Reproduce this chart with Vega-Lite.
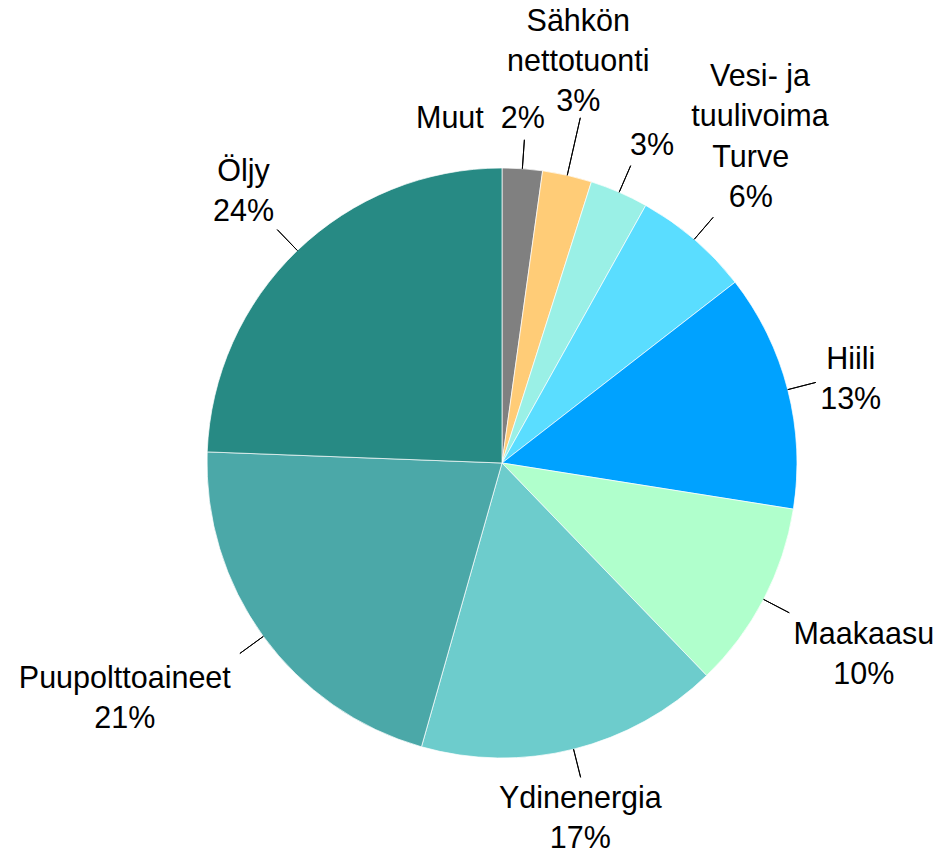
{
  "$schema": "https://vega.github.io/schema/vega-lite/v6.json",
  "width": 880,
  "height": 780,
  "autosize": {"type": "none"},
  "padding": {"left": 62, "top": 73, "right": 0, "bottom": 0},
  "background": "white",
  "config": {"view": {"stroke": null}},
  "data": {
    "values": [
      {"jarjestys": 1, "lahde": "Muut", "osuus": 2.2, "teksti": "Muut\u00a0\u00a02%", "lisateksti": ""},
      {"jarjestys": 2, "lahde": "Sähkön nettotuonti", "osuus": 2.7, "teksti": "Sähkön\nnettotuonti\n3%", "lisateksti": ""},
      {"jarjestys": 3, "lahde": "Vesi- ja tuulivoima", "osuus": 3.2, "teksti": "3%", "lisateksti": "Vesi- ja\ntuulivoima"},
      {"jarjestys": 4, "lahde": "Turve", "osuus": 6.4, "teksti": "Turve\n6%", "lisateksti": ""},
      {"jarjestys": 5, "lahde": "Hiili", "osuus": 13.0, "teksti": "Hiili\n13%", "lisateksti": ""},
      {"jarjestys": 6, "lahde": "Maakaasu", "osuus": 10.3, "teksti": "Maakaasu\n10%", "lisateksti": ""},
      {"jarjestys": 7, "lahde": "Ydinenergia", "osuus": 16.6, "teksti": "Ydinenergia\n17%", "lisateksti": ""},
      {"jarjestys": 8, "lahde": "Puupolttoaineet", "osuus": 21.2, "teksti": "Puupolttoaineet\n21%", "lisateksti": ""},
      {"jarjestys": 9, "lahde": "Öljy", "osuus": 24.4, "teksti": "Öljy\n24%", "lisateksti": ""}
    ]
  },
  "encoding": {
    "theta": {"field": "osuus", "type": "quantitative", "stack": true},
    "order": {"field": "jarjestys", "type": "quantitative", "sort": "ascending"},
    "detail": {"field": "lahde", "type": "nominal"}
  },
  "layer": [
    {
      "mark": {"type": "arc", "radius": 295, "stroke": "#ffffff", "strokeWidth": 0.7},
      "encoding": {
        "color": {
          "field": "lahde",
          "type": "nominal",
          "legend": null,
          "scale": {
            "domain": ["Muut", "Sähkön nettotuonti", "Vesi- ja tuulivoima", "Turve", "Hiili", "Maakaasu", "Ydinenergia", "Puupolttoaineet", "Öljy"],
            "range": ["#808080", "#FFCC77", "#9AF0E6", "#5ADDFF", "#00A2FF", "#B0FFCC", "#6DCCCC", "#4BA8A8", "#278A84"]
          }
        }
      }
    },
    {
      "mark": {"type": "arc", "radius": 295, "radius2": 324, "padAngle": 3, "fillOpacity": 0, "stroke": "#000000", "strokeWidth": 1}
    },
    {
      "mark": {"type": "arc", "radius": 323, "radius2": 354, "padAngle": 3, "fillOpacity": 0, "stroke": "#000000", "strokeWidth": 1},
      "encoding": {
        "strokeOpacity": {"condition": {"test": "datum.lahde === 'Sähkön nettotuonti'", "value": 1}, "value": 0}
      }
    },
    {
      "mark": {"type": "text", "radius": 377, "dx": 3, "dy": -19, "font": "Liberation Sans", "fontSize": 30.5, "lineHeight": 40, "lineBreak": "\n", "align": "center", "baseline": "middle", "color": "#000000"},
      "encoding": {"text": {"condition": {"test": "datum.lahde === 'Turve' || datum.lahde === 'Öljy'", "field": "teksti"}, "value": ""}}
    },
    {
      "mark": {"type": "text", "radius": 360, "dy": -13, "font": "Liberation Sans", "fontSize": 30.5, "lineHeight": 40, "lineBreak": "\n", "align": "center", "baseline": "middle", "color": "#000000"},
      "encoding": {"text": {"condition": {"test": "datum.lahde === 'Hiili'", "field": "teksti"}, "value": ""}}
    },
    {
      "mark": {"type": "text", "radius": 360, "dx": -9, "dy": -13, "font": "Liberation Sans", "fontSize": 30.5, "lineHeight": 40, "lineBreak": "\n", "align": "center", "baseline": "middle", "color": "#000000"},
      "encoding": {"text": {"condition": {"test": "datum.lahde === 'Ydinenergia'", "field": "teksti"}, "value": ""}}
    },
    {
      "mark": {"type": "text", "radius": 408, "dy": -17, "font": "Liberation Sans", "fontSize": 30.5, "lineHeight": 40, "lineBreak": "\n", "align": "center", "baseline": "middle", "color": "#000000"},
      "encoding": {"text": {"condition": {"test": "datum.lahde === 'Maakaasu'", "field": "teksti"}, "value": ""}}
    },
    {
      "mark": {"type": "text", "radius": 408, "dx": -14, "dy": -43, "font": "Liberation Sans", "fontSize": 30.5, "lineHeight": 40, "lineBreak": "\n", "align": "center", "baseline": "middle", "color": "#000000"},
      "encoding": {"text": {"condition": {"test": "datum.lahde === 'Sähkön nettotuonti'", "field": "teksti"}, "value": ""}}
    },
    {
      "mark": {"type": "text", "radius": 444, "dx": -18, "dy": -45, "font": "Liberation Sans", "fontSize": 30.5, "lineHeight": 40, "lineBreak": "\n", "align": "center", "baseline": "middle", "color": "#000000"},
      "encoding": {"text": {"condition": {"test": "datum.lahde === 'Puupolttoaineet'", "field": "teksti"}, "value": ""}}
    },
    {
      "mark": {"type": "text", "radius": 345, "dx": 19, "font": "Liberation Sans", "fontSize": 30.5, "lineHeight": 40, "lineBreak": "\n", "align": "right", "baseline": "middle", "color": "#000000"},
      "encoding": {"text": {"condition": {"test": "datum.lahde === 'Muut'", "field": "teksti"}, "value": ""}}
    },
    {
      "mark": {"type": "text", "radius": 345, "dx": 13, "font": "Liberation Sans", "fontSize": 30.5, "lineHeight": 40, "lineBreak": "\n", "align": "center", "baseline": "middle", "color": "#000000"},
      "encoding": {"text": {"condition": {"test": "datum.lahde === 'Vesi- ja tuulivoima'", "field": "teksti"}, "value": ""}}
    },
    {
      "mark": {"type": "text", "radius": 345, "dx": 121, "dy": -69, "font": "Liberation Sans", "fontSize": 30.5, "lineHeight": 40, "lineBreak": "\n", "align": "center", "baseline": "middle", "color": "#000000"},
      "encoding": {"text": {"condition": {"test": "datum.lahde === 'Vesi- ja tuulivoima'", "field": "lisateksti"}, "value": ""}}
    }
  ]
}
